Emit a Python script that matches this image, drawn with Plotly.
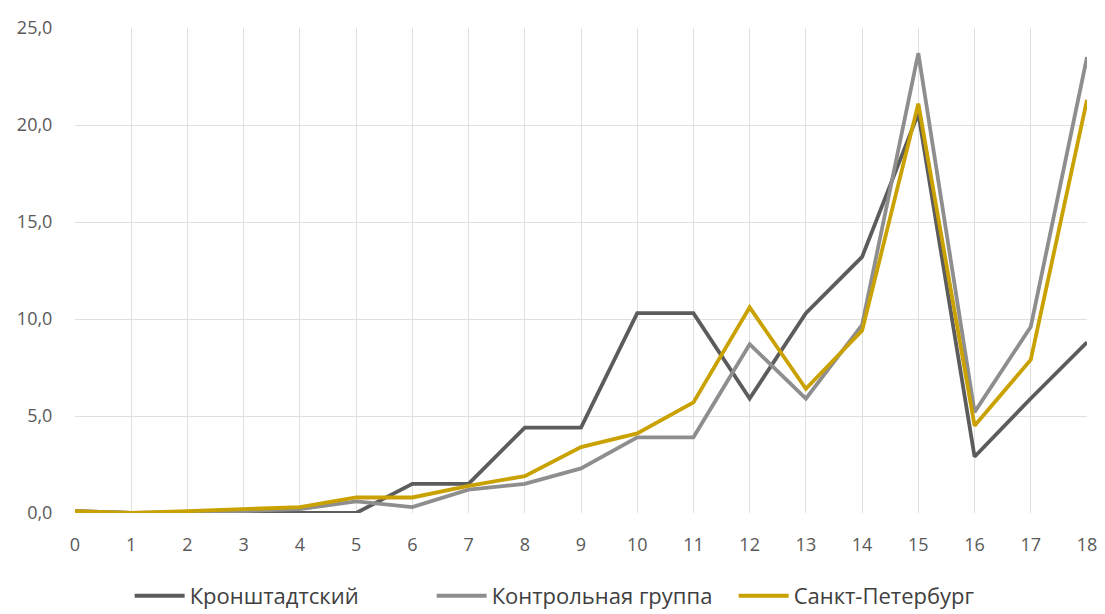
import plotly.graph_objects as go

x_vals = list(range(19))
kronshtadt = [0.1, 0.0, 0.0, 0.0, 0.0, 0.0, 1.5, 1.5, 4.4, 4.4, 10.3, 10.3, 5.9, 10.3, 13.2, 20.6, 2.9, 5.9, 8.8]
control = [0.1, 0.0, 0.05, 0.1, 0.2, 0.6, 0.3, 1.2, 1.5, 2.3, 3.9, 3.9, 8.7, 5.9, 9.7, 23.7, 5.2, 9.6, 23.5]
spb = [0.1, 0.0, 0.1, 0.2, 0.3, 0.8, 0.8, 1.4, 1.9, 3.4, 4.1, 5.7, 10.6, 6.4, 9.4, 21.1, 4.5, 7.9, 21.3]
names = ["Кронштадтский", "Контрольная группа", "Санкт-Петербург"]
colors = ["#5c5c5c", "#8e8e8e", "#c9a100"]

fig = go.Figure()
for name, ys, c in zip(names, [kronshtadt, control, spb], colors):
    fig.add_trace(go.Scatter(x=x_vals, y=ys, mode="lines", name=name,
                             line=dict(color=c, width=3.8)))

# page body has an 8px default margin, so the figure is sized/offset accordingly
fig.update_layout(
    width=1097, height=606,
    paper_bgcolor="white", plot_bgcolor="white",
    margin=dict(l=67, r=18, t=20, b=101, autoexpand=False),
    separators=", ",
    font=dict(family="Open Sans, sans-serif", size=18, color="#595959"),
    showlegend=True,
    legend=dict(orientation="h", x=0.054, xanchor="left", y=-0.171, yanchor="middle",
                font=dict(family="Open Sans, sans-serif", size=22, color="#404040"),
                itemwidth=50, entrywidth=237, entrywidthmode="pixels",
                traceorder="normal"),
)
fig.update_xaxes(range=[0, 18], tickmode="array", tickvals=x_vals,
                 ticktext=[str(v) for v in x_vals], automargin=False,
                 showgrid=True, gridcolor="#e0e0e0", gridwidth=1,
                 zeroline=False, showline=False,
                 ticks="outside", ticklen=15, tickcolor="rgba(0,0,0,0)",
                 tickfont=dict(size=18))
fig.update_yaxes(range=[0, 25], dtick=5, tickformat=".1f", automargin=False,
                 showgrid=True, gridcolor="#e0e0e0", gridwidth=1,
                 zeroline=False, showline=False,
                 ticks="outside", ticklen=18, tickcolor="rgba(0,0,0,0)",
                 tickfont=dict(size=18))

fig.write_html("out.html")
